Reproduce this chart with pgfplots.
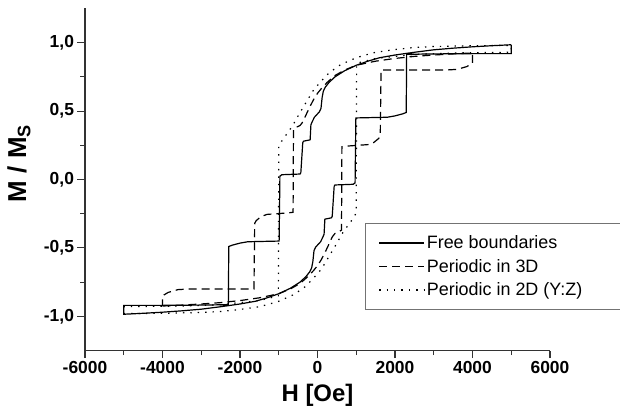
\documentclass[border=0pt]{standalone}
\usepackage{fontspec}
\setmainfont{Liberation Sans}
\usepackage{pgfplots}
\usepackage{pgfplotstable}
\pgfplotsset{compat=1.18}

% free boundaries: descending branch, then ascending branch
\pgfplotstableread{
H M
5000 0.985
4500 0.978
4000 0.97
3500 0.96
3000 0.948
2500 0.93
2000 0.91
1600 0.89
1300 0.865
1000 0.835
700 0.795
450 0.75
300 0.71
200 0.675
150 0.645
120 0.60
90 0.52
50 0.495
-80 0.455
-140 0.42
-170 0.40
-190 0.29
-360 0.28
-380 0.27
-430 0.05
-450 0.04
-920 0.035
-970 0.025
-990 -0.45
-1800 -0.455
-2000 -0.465
-2200 -0.48
-2290 -0.49
-2300 -0.915
-3000 -0.918
-4000 -0.92
-5000 -0.92
-5000 -0.985
-4500 -0.978
-4000 -0.97
-3500 -0.96
-3000 -0.948
-2500 -0.93
-2000 -0.91
-1600 -0.89
-1300 -0.865
-1000 -0.835
-700 -0.795
-450 -0.75
-300 -0.71
-200 -0.675
-150 -0.645
-120 -0.60
-90 -0.52
-50 -0.495
80 -0.455
140 -0.42
170 -0.40
190 -0.29
360 -0.28
380 -0.27
430 -0.05
450 -0.04
920 -0.035
970 -0.025
990 0.45
1800 0.455
2000 0.465
2200 0.48
2290 0.49
2300 0.915
3000 0.918
4000 0.92
5000 0.92
5000 0.985
}\freeb

% periodic in 3D
\pgfplotstableread{
H M
-4000 -0.925
-3500 -0.918
-3000 -0.91
-2500 -0.90
-2000 -0.885
-1500 -0.865
-1000 -0.835
-700 -0.80
-450 -0.76
-250 -0.71
-100 -0.665
0 -0.63
100 -0.585
200 -0.53
300 -0.47
380 -0.42
450 -0.395
560 -0.38
620 -0.37
630 0.24
800 0.245
1050 0.25
1300 0.255
1450 0.27
1580 0.30
1620 0.32
1640 0.80
2500 0.80
3300 0.80
3600 0.805
3850 0.825
4000 0.85
4000 0.925
3500 0.918
3000 0.91
2500 0.90
2000 0.885
1500 0.865
1000 0.835
700 0.80
450 0.76
250 0.71
100 0.665
0 0.63
-100 0.585
-200 0.53
-300 0.47
-380 0.42
-450 0.395
-560 0.38
-620 0.37
-630 -0.24
-800 -0.245
-1050 -0.25
-1300 -0.255
-1450 -0.27
-1580 -0.30
-1620 -0.32
-1640 -0.80
-2500 -0.80
-3300 -0.80
-3600 -0.805
-3850 -0.825
-4000 -0.85
-4000 -0.925
}\perthree

% periodic in 2D (Y:Z)
\pgfplotstableread{
H M
-5000 -0.98
-4000 -0.978
-3000 -0.972
-2500 -0.965
-2000 -0.95
-1500 -0.93
-1300 -0.915
-1000 -0.89
-600 -0.84
-300 -0.78
-100 -0.72
100 -0.655
250 -0.585
450 -0.49
650 -0.39
800 -0.33
880 -0.30
1000 -0.245
1010 0.85
1500 0.885
2000 0.90
2500 0.915
3500 0.925
5000 0.93
5000 0.98
4000 0.978
3000 0.972
2500 0.965
2000 0.95
1500 0.93
1300 0.915
1000 0.89
600 0.84
300 0.78
100 0.72
-100 0.655
-250 0.585
-450 0.49
-650 0.39
-800 0.33
-880 0.30
-1000 0.245
-1010 -0.85
-1500 -0.885
-2000 -0.90
-2500 -0.915
-3500 -0.925
-5000 -0.93
-5000 -0.98
}\pertwo

\begin{document}
\begin{tikzpicture}
\begin{axis}[
  scale only axis,
  width=465bp, height=342bp,
  xmin=-6000, xmax=6000,
  ymin=-1.25, ymax=1.25,
  axis x line*=bottom, axis y line*=left,
  axis line style={line width=1.3bp, black!80},
  xtick={-6000,-4000,...,6000},
  ytick={-1,-0.5,0,0.5,1},
  minor x tick num=1, minor y tick num=1,
  tick align=outside,
  major tick length=7.5bp, minor tick length=4.5bp,
  every tick/.style={line width=1.1bp, black!80},
  /pgf/number format/assume math mode=true,
  tick label style={font=\fontsize{17.5}{20}\selectfont\bfseries},
  scaled x ticks=false,
  x tick label style={/pgf/number format/1000 sep={}},
  y tick label style={/pgf/number format/.cd, fixed, fixed zerofill, precision=1, use comma},
  xlabel={H [Oe]},
  ylabel={M / M\textsubscript{S}},
  label style={font=\fontsize{24}{28}\selectfont\bfseries},
  xlabel style={yshift=-3bp},
  ylabel style={at={(axis description cs:-0.142,0.547)}, anchor=center,
    font=\fontsize{26}{30}\selectfont\bfseries},
  legend cell align=left,
  legend style={at={(axis cs:1226,-0.319)}, anchor=north west,
    draw=black!55, line width=1.3bp,
    font=\fontsize{18}{21}\selectfont,
    inner xsep=13bp, inner ysep=10bp, row sep=5bp},
  legend image code/.code={\draw[#1] (0bp,0bp) -- (45bp,0bp);},
]
\addplot[black, line width=1.2bp] table[x=H, y=M] {\freeb};
\addlegendentry{Free boundaries}
\addplot[black, line width=1.2bp, dash pattern=on 8bp off 5bp] table[x=H, y=M] {\perthree};
\addlegendentry{Periodic in 3D}
\addplot[black, line width=1.2bp, dash pattern=on 1.4bp off 6bp] table[x=H, y=M] {\pertwo};
\addlegendentry{Periodic in 2D (Y:Z)\rule{40bp}{0pt}}
\end{axis}
\pgfresetboundingbox
\path[use as bounding box] ([xshift=-85bp,yshift=-61.5bp]current axis.south west) rectangle ([xshift=535bp,yshift=350.5bp]current axis.south west);
\end{tikzpicture}
\end{document}
